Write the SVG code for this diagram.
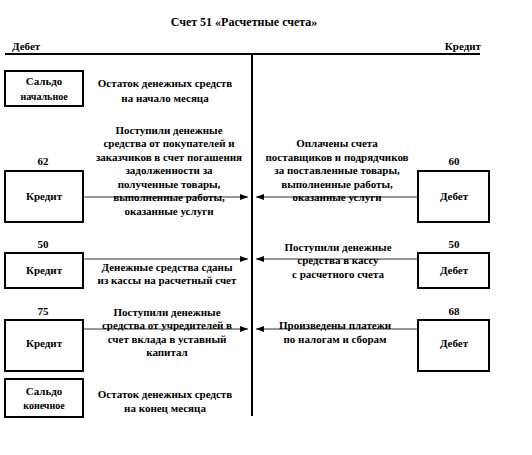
<svg xmlns="http://www.w3.org/2000/svg" width="532" height="455" viewBox="0 0 532 455">
<style>
text{font-family:"Liberation Serif","Times New Roman",serif;font-weight:bold;font-size:11px;fill:#000}
.m{text-anchor:middle}
.s{font-size:10px}
.t{font-size:12px}
.box{fill:#fff;stroke:#000;stroke-width:2}
.ax{stroke:#000;stroke-width:2;fill:none}
.arr{stroke:#333;stroke-width:1;fill:none;marker-end:url(#ah)}
</style>
<defs>
<marker id="ah" viewBox="0 0 8 6" refX="8" refY="3" markerWidth="8" markerHeight="6" markerUnits="userSpaceOnUse" orient="auto">
<path d="M0,0 L8,3 L0,6 z" fill="#000"/>
</marker>
</defs>
<rect width="532" height="455" fill="#fff"/>
<g id="header">
<text class="m t" x="244" y="26">Счет 51 «Расчетные счета»</text>
<text x="12" y="50">Дебет</text>
<text x="481" y="50" text-anchor="end">Кредит</text>
</g>
<g id="axes">
<line class="ax" x1="5" y1="54" x2="480" y2="54"/>
<line class="ax" x1="252" y1="54" x2="252" y2="416"/>
</g>
<g id="connectors">
<line class="arr" x1="83" y1="197" x2="248" y2="197"/>
<line class="arr" x1="418" y1="197" x2="256" y2="197"/>
<line class="arr" x1="83" y1="259" x2="248" y2="259"/>
<line class="arr" x1="418" y1="259" x2="256" y2="259"/>
<line class="arr" x1="83" y1="329" x2="248" y2="329"/>
<line class="arr" x1="418" y1="329" x2="256" y2="329"/>
</g>
<g id="saldo-start">
<rect class="box" x="5" y="71" width="78" height="35"/>
<text class="m" x="44" y="84.5">Сальдо</text>
<text class="m s" x="44" y="100">начальное</text>
</g>
<g id="saldo-start-text">
<text class="m" x="165" y="87">Остаток денежных средств</text>
<text class="m" x="165" y="101.5">на начало месяца</text>
</g>
<g id="n62">
<text class="m" x="43" y="165">62</text>
<rect class="box" x="5" y="171" width="78" height="51"/>
<text class="m" x="44" y="200">Кредит</text>
</g>
<g id="t62">
<text class="m" x="169" y="133.5">Поступили денежные</text>
<text class="m" x="169" y="147">средства от покупателей и</text>
<text class="m" x="169" y="160.5">заказчиков в счет погашения</text>
<text class="m" x="169" y="174">задолженности  за</text>
<text class="m" x="169" y="187.5">полученные товары,</text>
<text class="m" x="169" y="201">выполненные работы,</text>
<text class="m" x="169" y="214.5">оказанные услуги</text>
</g>
<g id="n60">
<text class="m" x="454" y="165">60</text>
<rect class="box" x="418" y="171" width="71" height="51"/>
<text class="m" x="454" y="200">Дебет</text>
</g>
<g id="t60">
<text class="m" x="337" y="147">Оплачены счета</text>
<text class="m" x="337" y="160.5">поставщиков и подрядчиков</text>
<text class="m" x="337" y="174">за поставленные  товары,</text>
<text class="m" x="337" y="187.5">выполненные работы,</text>
<text class="m" x="337" y="201">оказанные услуги</text>
</g>
<g id="n50k">
<text class="m" x="43" y="247.5">50</text>
<rect class="box" x="5" y="253" width="78" height="35"/>
<text class="m" x="44" y="274">Кредит</text>
</g>
<g id="t50k">
<text class="m" x="167" y="270.5">Денежные средства сданы</text>
<text class="m" x="167" y="284">из кассы на расчетный счет</text>
</g>
<g id="n50d">
<text class="m" x="454" y="247.5">50</text>
<rect class="box" x="418" y="253" width="71" height="35"/>
<text class="m" x="454" y="274">Дебет</text>
</g>
<g id="t50d">
<text class="m" x="338" y="250.5">Поступили денежные</text>
<text class="m" x="338" y="264">средства в кассу</text>
<text class="m" x="338" y="277.5">с расчетного счета</text>
</g>
<g id="n75">
<text class="m" x="43" y="315">75</text>
<rect class="box" x="5" y="320" width="78" height="51"/>
<text class="m" x="44" y="347">Кредит</text>
</g>
<g id="t75">
<text class="m" x="167" y="315.5">Поступили денежные</text>
<text class="m" x="167" y="329">средства от учредителей в</text>
<text class="m" x="167" y="342.5">счет вклада в уставный</text>
<text class="m" x="167" y="356">капитал</text>
</g>
<g id="n68">
<text class="m" x="454" y="315">68</text>
<rect class="box" x="418" y="320" width="71" height="51"/>
<text class="m" x="454" y="347">Дебет</text>
</g>
<g id="t68">
<text class="m" x="335" y="328.5">Произведены платежи</text>
<text class="m" x="335" y="342.5">по налогам и сборам</text>
</g>
<g id="saldo-end">
<rect class="box" x="5" y="379" width="78" height="38"/>
<text class="m" x="44" y="394.5">Сальдо</text>
<text class="m s" x="44" y="408.5">конечное</text>
</g>
<g id="saldo-end-text">
<text class="m" x="165" y="397.5">Остаток денежных средств</text>
<text class="m" x="165" y="412">на конец месяца</text>
</g>
</svg>
